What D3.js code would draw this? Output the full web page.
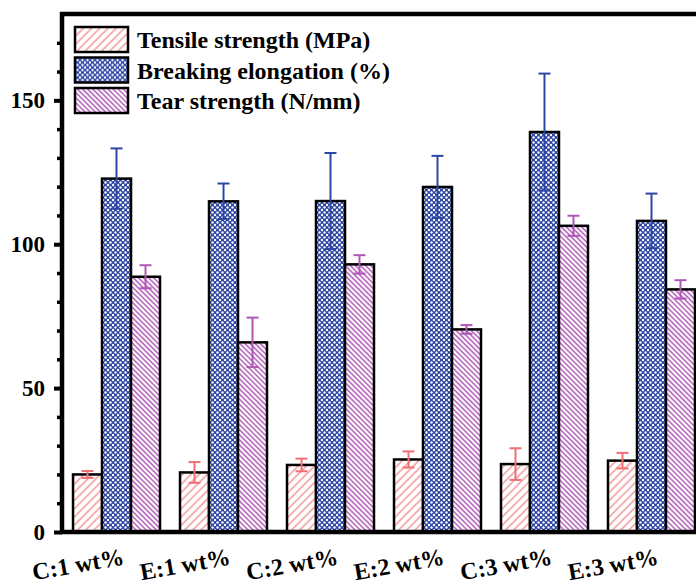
<!DOCTYPE html>
<html>
<head>
<meta charset="utf-8">
<script src="https://cdn.jsdelivr.net/npm/d3@7"></script>
<style>
  body { margin: 0; background: #fff; }
  svg { display: block; }
</style>
</head>
<body>
<script>
// chart values
var categories = ["C:1 wt%", "E:1 wt%", "C:2 wt%", "E:2 wt%", "C:3 wt%", "E:3 wt%"];
var seriesKeys = ["tensile", "elongation", "tear"];
var seriesNames = ["Tensile strength (MPa)", "Breaking elongation (%)", "Tear strength (N/mm)"];
var tensile = [20.0, 20.7, 23.3, 25.2, 23.6, 24.8];
var tensileErr = [1.2, 3.6, 2.2, 2.8, 5.5, 2.7];
var elongation = [122.8, 114.9, 115.0, 119.9, 139.0, 108.1];
var elongationErr = [10.5, 6.2, 16.7, 10.8, 20.3, 9.5];
var tear = [88.7, 65.9, 93.0, 70.4, 106.4, 84.3];
var tearErr = [4.0, 8.6, 3.2, 1.5, 3.5, 3.2];
var yTicks = [0, 50, 100, 150];
var yMinorTicks = [10, 20, 30, 40, 60, 70, 80, 90, 110, 120, 130, 140, 160, 170];

var w = 696, h = 585;
var mLeft = 62, mTop = 14, mBottom = 532, mRight = 702;
var serif = "'Liberation Serif', 'Times New Roman', serif";

// error bar colours per series
var errColor = { tensile: "#ef6f73", elongation: "#2d46a6", tear: "#b057b6" };

var rows = categories.map(function (c, i) {
  return {
    cat: c,
    values: [
      { key: "tensile", v: tensile[i], e: tensileErr[i] },
      { key: "elongation", v: elongation[i], e: elongationErr[i] },
      { key: "tear", v: tear[i], e: tearErr[i] }
    ]
  };
});

var svg = d3.select("body").append("svg")
  .attr("width", w)
  .attr("height", h);

// hatch patterns
var defs = svg.append("defs");

var pT = defs.append("pattern")
  .attr("id", "pat-tensile")
  .attr("patternUnits", "userSpaceOnUse")
  .attr("width", 5.8).attr("height", 10)
  .attr("patternTransform", "rotate(45)");
pT.append("rect").attr("width", 5.8).attr("height", 10).attr("fill", "#fff");
pT.append("line").attr("x1", 1).attr("x2", 1).attr("y1", 0).attr("y2", 10)
  .attr("stroke", "#f07e82").attr("stroke-width", 1.2);

var pE = defs.append("pattern")
  .attr("id", "pat-elongation")
  .attr("patternUnits", "userSpaceOnUse")
  .attr("width", 5).attr("height", 5);
pE.append("rect").attr("width", 5).attr("height", 5).attr("fill", "#2b44a4");
[[0, 0], [5, 0], [0, 5], [5, 5], [2.5, 2.5]].forEach(function (p) {
  pE.append("circle").attr("cx", p[0]).attr("cy", p[1]).attr("r", 1.2).attr("fill", "#fff");
});

var pR = defs.append("pattern")
  .attr("id", "pat-tear")
  .attr("patternUnits", "userSpaceOnUse")
  .attr("width", 3.6).attr("height", 10)
  .attr("patternTransform", "rotate(-45)");
pR.append("rect").attr("width", 3.6).attr("height", 10).attr("fill", "#fff");
pR.append("line").attr("x1", 1).attr("x2", 1).attr("y1", 0).attr("y2", 10)
  .attr("stroke", "#b25cb8").attr("stroke-width", 1.5);

var fillFor = function (k) { return "url(#pat-" + k + ")"; };

// scales
var x0 = d3.scaleBand()
  .domain(categories)
  .range([mLeft, 706])
  .paddingInner(0.187)
  .paddingOuter(0.103);

var x1 = d3.scaleBand()
  .domain(seriesKeys)
  .range([0, x0.bandwidth()]);

var y = d3.scaleLinear()
  .domain([0, 180])
  .range([mBottom, mTop]);

// bars
var groups = svg.selectAll(".group")
  .data(rows)
  .enter().append("g")
  .attr("class", "group")
  .attr("transform", function (d) { return "translate(" + x0(d.cat) + ",0)"; });

groups.selectAll("rect")
  .data(function (d) { return d.values; })
  .enter().append("rect")
  .attr("x", function (d) { return x1(d.key); })
  .attr("y", function (d) { return y(d.v); })
  .attr("width", x1.bandwidth())
  .attr("height", function (d) { return y(0) - y(d.v); })
  .attr("fill", function (d) { return fillFor(d.key); })
  .attr("stroke", "#000")
  .attr("stroke-width", 2.5);

// error bars
var eb = groups.selectAll(".err")
  .data(function (d) { return d.values; })
  .enter().append("g")
  .attr("class", "err")
  .attr("stroke", function (d) { return errColor[d.key]; })
  .attr("stroke-width", 2);

eb.append("line")
  .attr("x1", function (d) { return x1(d.key) + x1.bandwidth() / 2; })
  .attr("x2", function (d) { return x1(d.key) + x1.bandwidth() / 2; })
  .attr("y1", function (d) { return y(d.v - d.e); })
  .attr("y2", function (d) { return y(d.v + d.e); });

[-1, 1].forEach(function (s) {
  eb.append("line")
    .attr("x1", function (d) { return x1(d.key) + x1.bandwidth() / 2 - 6; })
    .attr("x2", function (d) { return x1(d.key) + x1.bandwidth() / 2 + 6; })
    .attr("y1", function (d) { return y(d.v + s * d.e); })
    .attr("y2", function (d) { return y(d.v + s * d.e); });
});

// y axis, major and minor ticks
var yAxis = svg.append("g")
  .attr("transform", "translate(" + mLeft + ",0)")
  .call(d3.axisLeft(y).tickValues(yTicks).tickSize(8).tickPadding(9).tickFormat(d3.format("d")));
yAxis.select(".domain").remove();
yAxis.selectAll("line").attr("stroke", "#000").attr("stroke-width", 4);
yAxis.selectAll("text")
  .attr("fill", "#000")
  .style("font-family", serif)
  .style("font-weight", "bold")
  .style("font-size", "23px");

var yMinor = svg.append("g")
  .attr("transform", "translate(" + mLeft + ",0)")
  .call(d3.axisLeft(y).tickValues(yMinorTicks).tickSize(5).tickFormat(""));
yMinor.select(".domain").remove();
yMinor.selectAll("line").attr("stroke", "#000").attr("stroke-width", 3.5);

// frame
svg.append("path")
  .attr("d", "M" + mRight + "," + mTop + "H" + mLeft + "V" + mBottom + "H" + mRight)
  .attr("fill", "none")
  .attr("stroke", "#000")
  .attr("stroke-width", 4.5)
  .attr("stroke-linecap", "square");

// x labels, tilted
svg.selectAll(".xlab")
  .data(categories)
  .enter().append("text")
  .attr("class", "xlab")
  .attr("text-anchor", "middle")
  .attr("transform", function (d) {
    return "translate(" + (x0(d) + 5) + ",564) rotate(-10)";
  })
  .attr("dy", "0.35em")
  .style("font-family", serif)
  .style("font-weight", "bold")
  .style("font-size", "24px")
  .text(function (d) { return d; });

// legend
var legend = svg.selectAll(".legend")
  .data(seriesKeys)
  .enter().append("g")
  .attr("class", "legend")
  .attr("transform", function (d, i) { return "translate(75," + (27 + i * 30.5) + ")"; });

legend.append("rect")
  .attr("width", 53)
  .attr("height", 25)
  .attr("fill", function (d) { return fillFor(d); })
  .attr("stroke", "#000")
  .attr("stroke-width", 2.5);

legend.append("text")
  .attr("x", 62)
  .attr("y", 13)
  .attr("dy", "0.35em")
  .style("font-family", serif)
  .style("font-weight", "bold")
  .style("font-size", "24px")
  .text(function (d, i) { return seriesNames[i]; });
</script>
</body>
</html>
